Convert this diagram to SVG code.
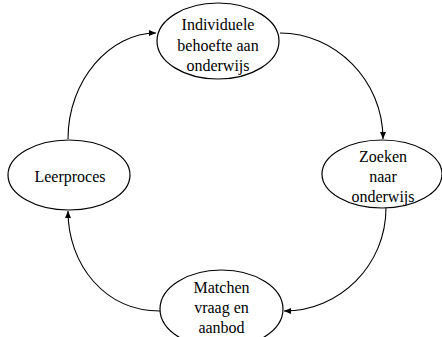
<svg xmlns="http://www.w3.org/2000/svg" width="442" height="337" viewBox="0 0 442 337">
<style>
.n ellipse{fill:#fff;stroke:#000;stroke-width:1.2}
.c path{fill:none;stroke:#000;stroke-width:1.1}
</style>
<defs>
<marker id="ah" markerWidth="7" markerHeight="6" refX="7" refY="3" orient="auto" markerUnits="userSpaceOnUse">
<path d="M0,0 L7,3 L0,6 Z" fill="#000"/>
</marker>
</defs>
<rect width="442" height="337" fill="#fff"/>
<g class="c" id="connectors">
<path d="M68,139 C68,80 110,33 156,33" marker-end="url(#ah)"/>
<path d="M280,33 C335,33 383,80 383,139" marker-end="url(#ah)"/>
<path d="M386,208 C386,265 340,311 284,311" marker-end="url(#ah)"/>
<path d="M160,311 C105,311 68,265 68,211" marker-end="url(#ah)"/>
</g>
<g font-family="'Liberation Serif', 'Times New Roman', serif" font-size="16" text-anchor="middle" fill="#000">
<g class="n" id="n-behoefte">
<ellipse cx="218" cy="41" rx="61" ry="38"/>
<text x="218" y="30">Individuele</text>
<text x="218" y="51">behoefte aan</text>
<text x="218" y="71">onderwijs</text>
</g>
<g class="n" id="n-zoeken">
<ellipse cx="382" cy="174" rx="60" ry="34"/>
<text x="383" y="162">Zoeken</text>
<text x="383" y="182">naar</text>
<text x="383" y="202">onderwijs</text>
</g>
<g class="n" id="n-matchen">
<ellipse cx="221.5" cy="309" rx="61.5" ry="39"/>
<text x="221.5" y="293">Matchen</text>
<text x="221.5" y="313">vraag en</text>
<text x="221.5" y="333">aanbod</text>
</g>
<g class="n" id="n-leerproces">
<ellipse cx="69" cy="175" rx="61" ry="35"/>
<text x="70" y="181.5">Leerproces</text>
</g>
</g>
</svg>
